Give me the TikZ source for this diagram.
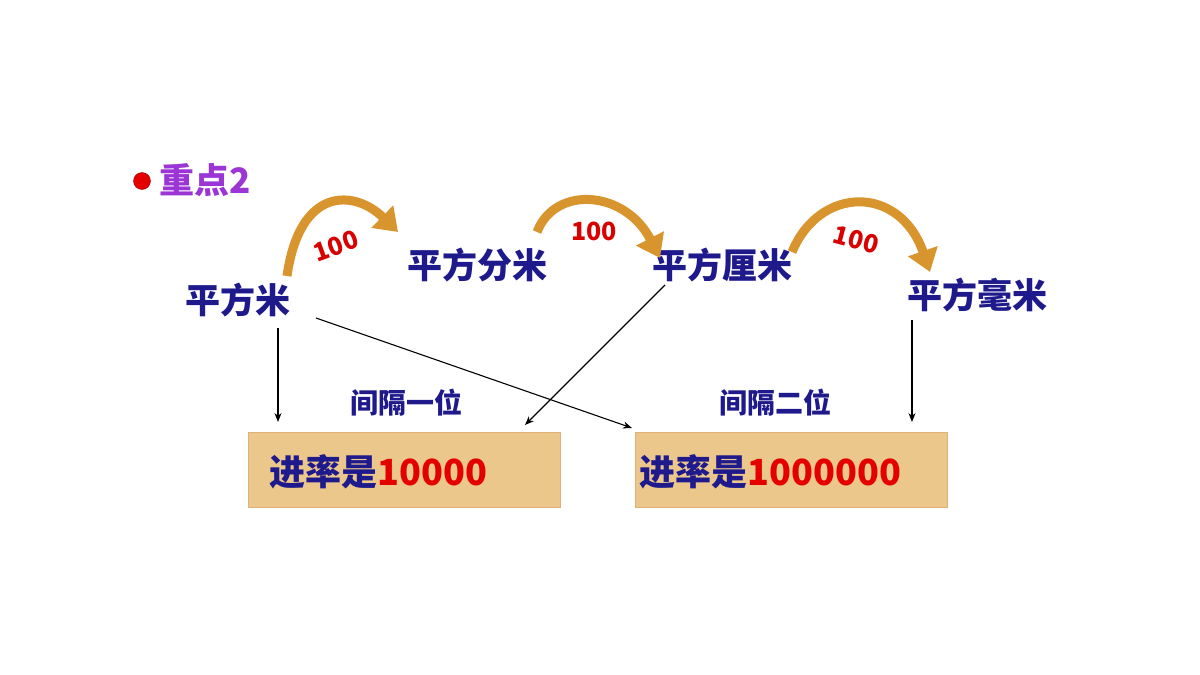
\documentclass[tikz,border=0pt]{standalone}
\usepackage{fontspec}
\setmainfont{Noto Sans CJK SC}
\usetikzlibrary{arrows.meta}
\definecolor{dblue}{HTML}{1F1A8C}
\definecolor{purp}{HTML}{9B35D6}
\definecolor{wood}{HTML}{EBC78C}
\definecolor{orng}{HTML}{D8952E}
\begin{document}
\begin{tikzpicture}[x=1pt,y=-1pt,
 unit/.style={text=dblue,font=\bfseries\fontsize{35}{35}\selectfont},
 gap/.style={text=dblue,font=\bfseries\fontsize{28}{28}\selectfont},
 hund/.style={text=red!85!black,font=\bfseries\fontsize{25}{25}\selectfont,inner sep=0pt},
 woodbox/.style={draw=wood!70!brown,fill=wood,minimum width=312pt,minimum height=75pt,inner sep=0pt},
 bigarr/.style={orng,line width=9pt,-{Triangle[length=22pt,width=30pt]}},
 thin/.style={black,line width=1.1pt,-{Stealth[length=9pt,width=7pt]}}]
\useasboundingbox (0,0) rectangle (1200,675);
\fill[white] (0,0) rectangle (1200,675);
\node[circle,fill=red!90!black,draw=red!60!black,minimum size=17pt,inner sep=0pt] (dot) at (142,181) {};
\node[anchor=west,text=purp,font=\bfseries\fontsize{35}{35}\selectfont] (title) at (156,180) {重点2};
\node[unit] (m) at (238,300) {平方米};
\node[unit] (dm) at (477,265) {平方分米};
\node[unit] (cm) at (722,265) {平方厘米};
\node[unit] (mm) at (977,295) {平方毫米};
\coordinate (a1s) at (287,276); \coordinate (a1e) at (398,232);
\coordinate (a2s) at (537,232); \coordinate (a2e) at (660,258);
\coordinate (a3s) at (792,252); \coordinate (a3e) at (930,272);
\draw[bigarr] (a1s) .. controls (300,185) and (355,190) .. (a1e);
\draw[bigarr] (a2s) .. controls (555,185) and (625,190) .. (a2e);
\draw[bigarr] (a3s) .. controls (820,185) and (900,185) .. (a3e);
\node[hund,rotate=20] (h1) at (336,246) {100};
\node[hund] (h2) at (594,231) {100};
\node[hund,rotate=-15] (h3) at (856,240) {100};
\node[woodbox] (b1) at (404,470) {};
\node[woodbox] (b2) at (791,470) {};
\node[anchor=west,font=\bfseries\fontsize{36}{36}\selectfont] (t1) at (266,472) {\textcolor{dblue}{进率是}\textcolor{red!90!black}{10000}};
\node[anchor=west,font=\bfseries\fontsize{36}{36}\selectfont] (t2) at (636,472) {\textcolor{dblue}{进率是}\textcolor{red!90!black}{1000000}};
\node[gap] (g1) at (406,403) {间隔一位};
\node[gap] (g2) at (775,403) {间隔二位};
\coordinate (e1) at (278,422); \coordinate (e2) at (632,428);
\coordinate (e3) at (525,425); \coordinate (e4) at (912,422);
\draw[thin] (278,328) -- (e1);
\draw[thin] (316,318) -- (e2);
\draw[thin] (665,285) -- (e3);
\draw[thin] (912,320) -- (e4);
\end{tikzpicture}
\end{document}
